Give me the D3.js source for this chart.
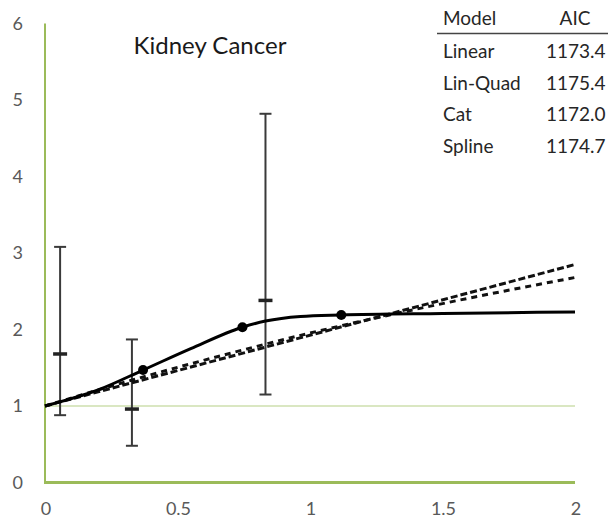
<!DOCTYPE html>
<html>
<head>
<meta charset="utf-8">
<script src="https://cdn.jsdelivr.net/npm/d3@7"></script>
<style>
  html, body { margin: 0; padding: 0; background: #fff; }
  svg { display: block; }
  text { font-family: Lato, "Open Sans", sans-serif; }
</style>
</head>
<body>
<svg id="chart" width="608" height="519"></svg>
<script>
// Axis ticks
const xTicks = [0, 0.5, 1, 1.5, 2];
const yTicks = [0, 1, 2, 3, 4, 5, 6];

// Fitted dose–response curves: [dose, relative risk]
const linearCurve  = [[0, 1], [2, 2.85]];
const linQuadCurve = [[0, 1], [0.33, 1.34], [0.7, 1.69], [0.96, 1.92], [1.3, 2.19], [1.6, 2.41], [2, 2.68]];
const splineCurve  = [[0, 1], [0.2, 1.21], [0.37, 1.47], [0.55, 1.75], [0.745, 2.03], [0.832, 2.11],
                      [0.964, 2.17], [1.118, 2.19], [1.5, 2.21], [2, 2.23]];
const splineKnots  = [[0.37, 1.47], [0.745, 2.03], [1.118, 2.19]];

// Categorical estimates with confidence intervals
const catDose  = [0.057, 0.328, 0.832];
const catEst   = [1.68, 0.96, 2.38];
const catLower = [0.88, 0.48, 1.15];
const catUpper = [3.08, 1.87, 4.82];

// Model fit table
const models = ["Linear", "Lin-Quad", "Cat", "Spline"];
const aic    = ["1173.4", "1175.4", "1172.0", "1174.7"];

const svg = d3.select("#chart");
const x = d3.scaleLinear().domain([0, 2]).range([45, 575]);
const y = d3.scaleLinear().domain([0, 6]).range([482.5, 23.5]);
const green = "#9bbb59";
const labelColor = "#595959";

// reference line at RR = 1
svg.append("line")
  .attr("x1", x(0)).attr("x2", x(2))
  .attr("y1", y(1)).attr("y2", y(1))
  .attr("stroke", "#b5cf85").attr("stroke-width", 1);

// axes lines
svg.append("line")
  .attr("x1", x(0)).attr("x2", x(0))
  .attr("y1", y(6)).attr("y2", y(0))
  .attr("stroke", green).attr("stroke-width", 2);
svg.append("line")
  .attr("x1", x(0) - 1).attr("x2", x(2))
  .attr("y1", y(0)).attr("y2", y(0))
  .attr("stroke", green).attr("stroke-width", 3);

// tick labels
svg.append("g").selectAll("text").data(yTicks).join("text")
  .attr("x", 23).attr("y", d => y(d))
  .attr("dy", "0.36em")
  .attr("text-anchor", "end")
  .attr("font-size", 18)
  .attr("fill", labelColor)
  .text(d => d);
svg.append("g").selectAll("text").data(xTicks).join("text")
  .attr("x", d => x(d) + 1).attr("y", 515)
  .attr("text-anchor", "middle")
  .attr("font-size", 18)
  .attr("fill", labelColor)
  .text(d => d);

// error bars
const bars = svg.append("g").attr("stroke", "#3a3a3a");
catDose.forEach((d, i) => {
  const cx = x(d);
  bars.append("line").attr("x1", cx).attr("x2", cx)
    .attr("y1", y(catUpper[i])).attr("y2", y(catLower[i])).attr("stroke-width", 2);
  [catUpper[i], catLower[i]].forEach(v => {
    bars.append("line").attr("x1", cx - 6).attr("x2", cx + 6)
      .attr("y1", y(v)).attr("y2", y(v)).attr("stroke-width", 2);
  });
  bars.append("line").attr("x1", cx - 7).attr("x2", cx + 7)
    .attr("y1", y(catEst[i])).attr("y2", y(catEst[i])).attr("stroke-width", 3.5).attr("stroke", "#222");
});

// curves
const line = d3.line().x(d => x(d[0])).y(d => y(d[1]));
const smooth = d3.line().x(d => x(d[0])).y(d => y(d[1])).curve(d3.curveMonotoneX);

svg.append("path").datum(linearCurve)
  .attr("d", line).attr("fill", "none")
  .attr("stroke", "#111").attr("stroke-width", 3)
  .attr("stroke-dasharray", "7,3");
svg.append("path").datum(linQuadCurve)
  .attr("d", smooth).attr("fill", "none")
  .attr("stroke", "#111").attr("stroke-width", 3)
  .attr("stroke-dasharray", "6,5");
svg.append("path").datum(splineCurve)
  .attr("d", smooth).attr("fill", "none")
  .attr("stroke", "#000").attr("stroke-width", 3);
svg.append("g").selectAll("circle").data(splineKnots).join("circle")
  .attr("cx", d => x(d[0])).attr("cy", d => y(d[1]))
  .attr("r", 5).attr("fill", "#000");

// title
svg.append("text")
  .attr("x", 210).attr("y", 54)
  .attr("text-anchor", "middle")
  .attr("font-size", 24)
  .attr("fill", "#1a1a1a")
  .text("Kidney Cancer");

// AIC table
const table = svg.append("g").attr("font-size", 19).attr("fill", "#262626");
table.append("text").attr("x", 443).attr("y", 25).text("Model");
table.append("text").attr("x", 575).attr("y", 25).attr("text-anchor", "middle").text("AIC");
table.append("line").attr("x1", 437).attr("x2", 608).attr("y1", 33.5).attr("y2", 33.5)
  .attr("stroke", "#444").attr("stroke-width", 1.5);
models.forEach((m, i) => {
  const ty = 58 + i * 31.7;
  table.append("text").attr("x", 443).attr("y", ty).text(m);
  table.append("text").attr("x", 546).attr("y", ty).text(aic[i]);
});
</script>
</body>
</html>
